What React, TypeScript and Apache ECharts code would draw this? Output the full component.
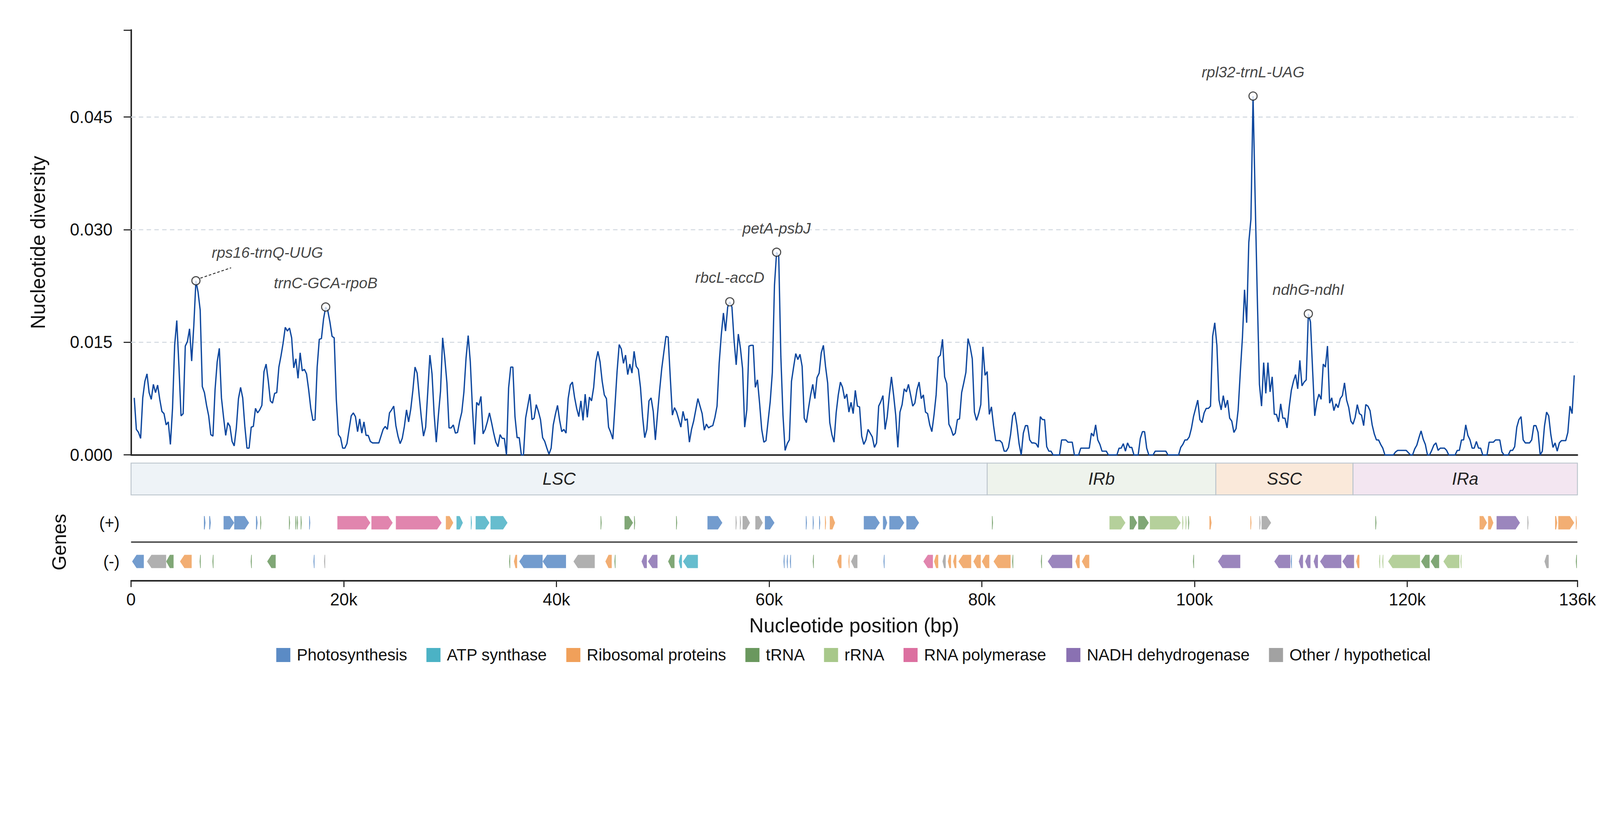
import { useEffect, useRef } from 'react'
import * as echarts from 'echarts'

// sliding-window nucleotide diversity (window midpoints start at 300 bp, step 200 bp)
const windowStart = 300
const windowStep = 200
const diversity = [
  0.0076, 0.0034, 0.0030, 0.0022, 0.0076, 0.0098, 0.0108, 0.0083, 0.0074, 0.0094,
  0.0083, 0.0093, 0.0074, 0.0058, 0.0055, 0.0040, 0.0044, 0.0014, 0.0062, 0.0146,
  0.0179, 0.0119, 0.0052, 0.0055, 0.0145, 0.0151, 0.0168, 0.0125, 0.0172, 0.0232,
  0.0217, 0.0193, 0.0091, 0.0083, 0.0066, 0.0052, 0.0027, 0.0025, 0.0087, 0.0124,
  0.0142, 0.0076, 0.0050, 0.0026, 0.0043, 0.0038, 0.0018, 0.0012, 0.0036, 0.0075,
  0.0090, 0.0076, 0.0038, 0.0009, 0.0009, 0.0037, 0.0038, 0.0062, 0.0056, 0.0060,
  0.0066, 0.0111, 0.0121, 0.0099, 0.0072, 0.0069, 0.0082, 0.0083, 0.0117, 0.0132,
  0.0149, 0.0170, 0.0165, 0.0169, 0.0156, 0.0116, 0.0128, 0.0102, 0.0136, 0.0112,
  0.0114, 0.0108, 0.0087, 0.0062, 0.0046, 0.0047, 0.0117, 0.0154, 0.0155, 0.0181,
  0.0197, 0.0192, 0.0177, 0.0158, 0.0156, 0.0074, 0.0027, 0.0023, 0.0009, 0.0009,
  0.0015, 0.0034, 0.0052, 0.0056, 0.0051, 0.0031, 0.0048, 0.0029, 0.0044, 0.0026,
  0.0026, 0.0018, 0.0016, 0.0016, 0.0016, 0.0016, 0.0025, 0.0034, 0.0038, 0.0034,
  0.0056, 0.0060, 0.0065, 0.0039, 0.0025, 0.0015, 0.0022, 0.0038, 0.0060, 0.0044,
  0.0061, 0.0086, 0.0117, 0.0109, 0.0078, 0.0049, 0.0025, 0.0037, 0.0084, 0.0133,
  0.0108, 0.0054, 0.0017, 0.0053, 0.0085, 0.0156, 0.0129, 0.0096, 0.0036, 0.0036,
  0.0040, 0.0029, 0.0030, 0.0045, 0.0057, 0.0084, 0.0129, 0.0159, 0.0124, 0.0062,
  0.0014, 0.0070, 0.0066, 0.0078, 0.0028, 0.0034, 0.0044, 0.0056, 0.0043, 0.0029,
  0.0017, 0.0011, 0.0027, 0.0022, 0.0022, 0.0000, 0.0089, 0.0117, 0.0117, 0.0051,
  0.0023, 0.0023, 0.0000, 0.0000, 0.0049, 0.0065, 0.0081, 0.0047, 0.0049, 0.0067,
  0.0058, 0.0047, 0.0023, 0.0018, 0.0009, 0.0001, 0.0009, 0.0040, 0.0054, 0.0066,
  0.0046, 0.0031, 0.0034, 0.0029, 0.0075, 0.0093, 0.0097, 0.0077, 0.0062, 0.0051,
  0.0072, 0.0046, 0.0081, 0.0050, 0.0077, 0.0072, 0.0090, 0.0124, 0.0138, 0.0124,
  0.0098, 0.0080, 0.0075, 0.0037, 0.0030, 0.0021, 0.0065, 0.0111, 0.0147, 0.0141,
  0.0122, 0.0133, 0.0107, 0.0121, 0.0109, 0.0138, 0.0118, 0.0114, 0.0090, 0.0051,
  0.0023, 0.0034, 0.0072, 0.0076, 0.0058, 0.0020, 0.0054, 0.0086, 0.0115, 0.0137,
  0.0158, 0.0157, 0.0104, 0.0053, 0.0063, 0.0057, 0.0047, 0.0037, 0.0058, 0.0046,
  0.0048, 0.0017, 0.0034, 0.0045, 0.0060, 0.0075, 0.0065, 0.0055, 0.0033, 0.0041,
  0.0036, 0.0038, 0.0039, 0.0050, 0.0065, 0.0122, 0.0160, 0.0189, 0.0165, 0.0197,
  0.0204, 0.0197, 0.0153, 0.0120, 0.0161, 0.0142, 0.0115, 0.0037, 0.0060, 0.0145,
  0.0146, 0.0146, 0.0090, 0.0100, 0.0069, 0.0034, 0.0017, 0.0019, 0.0045, 0.0071,
  0.0110, 0.0226, 0.0270, 0.0265, 0.0131, 0.0053, 0.0006, 0.0015, 0.0020, 0.0098,
  0.0117, 0.0135, 0.0127, 0.0134, 0.0118, 0.0049, 0.0043, 0.0062, 0.0080, 0.0094,
  0.0075, 0.0103, 0.0109, 0.0136, 0.0146, 0.0118, 0.0096, 0.0043, 0.0027, 0.0017,
  0.0056, 0.0080, 0.0097, 0.0090, 0.0075, 0.0081, 0.0057, 0.0070, 0.0055, 0.0086,
  0.0065, 0.0064, 0.0025, 0.0014, 0.0020, 0.0034, 0.0029, 0.0024, 0.0010, 0.0016,
  0.0065, 0.0071, 0.0079, 0.0034, 0.0051, 0.0080, 0.0104, 0.0080, 0.0053, 0.0010,
  0.0057, 0.0067, 0.0088, 0.0084, 0.0094, 0.0080, 0.0065, 0.0069, 0.0087, 0.0097,
  0.0075, 0.0080, 0.0057, 0.0055, 0.0040, 0.0031, 0.0053, 0.0080, 0.0130, 0.0133,
  0.0154, 0.0104, 0.0095, 0.0041, 0.0035, 0.0026, 0.0029, 0.0047, 0.0048, 0.0083,
  0.0096, 0.0110, 0.0155, 0.0144, 0.0128, 0.0057, 0.0046, 0.0055, 0.0067, 0.0144,
  0.0106, 0.0111, 0.0054, 0.0064, 0.0039, 0.0019, 0.0019, 0.0019, 0.0016, 0.0005,
  0.0005, 0.0010, 0.0027, 0.0052, 0.0057, 0.0039, 0.0015, 0.0000, 0.0029, 0.0039,
  0.0039, 0.0020, 0.0016, 0.0016, 0.0015, 0.0010, 0.0051, 0.0047, 0.0047, 0.0011,
  0.0005, 0.0005, 0.0000, 0.0000, 0.0000, 0.0000, 0.0020, 0.0020, 0.0020, 0.0017,
  0.0017, 0.0017, 0.0000, 0.0000, 0.0000, 0.0009, 0.0009, 0.0009, 0.0009, 0.0009,
  0.0029, 0.0025, 0.0040, 0.0020, 0.0014, 0.0005, 0.0005, 0.0005, 0.0000, 0.0000,
  0.0000, 0.0000, 0.0000, 0.0009, 0.0009, 0.0015, 0.0005, 0.0016, 0.0010, 0.0010,
  0.0000, 0.0000, 0.0000, 0.0022, 0.0031, 0.0031, 0.0009, 0.0000, 0.0000, 0.0000,
  0.0005, 0.0005, 0.0005, 0.0005, 0.0005, 0.0005, 0.0000, 0.0000, 0.0000, 0.0000,
  0.0000, 0.0000, 0.0010, 0.0014, 0.0020, 0.0020, 0.0024, 0.0035, 0.0051, 0.0062,
  0.0073, 0.0047, 0.0043, 0.0056, 0.0062, 0.0062, 0.0065, 0.0158, 0.0176, 0.0146,
  0.0073, 0.0060, 0.0079, 0.0063, 0.0073, 0.0049, 0.0045, 0.0030, 0.0035, 0.0060,
  0.0110, 0.0156, 0.0220, 0.0176, 0.0283, 0.0314, 0.0478, 0.0340, 0.0210, 0.0094,
  0.0065, 0.0123, 0.0082, 0.0123, 0.0084, 0.0104, 0.0054, 0.0054, 0.0044, 0.0068,
  0.0049, 0.0049, 0.0036, 0.0064, 0.0086, 0.0098, 0.0107, 0.0088, 0.0126, 0.0092,
  0.0097, 0.0100, 0.0188, 0.0177, 0.0113, 0.0052, 0.0071, 0.0081, 0.0074, 0.0121,
  0.0117, 0.0145, 0.0069, 0.0076, 0.0059, 0.0068, 0.0063, 0.0075, 0.0079, 0.0096,
  0.0073, 0.0063, 0.0045, 0.0041, 0.0050, 0.0067, 0.0055, 0.0053, 0.0039, 0.0067,
  0.0065, 0.0059, 0.0040, 0.0028, 0.0020, 0.0020, 0.0014, 0.0009, 0.0000, 0.0000,
  0.0000, 0.0000, 0.0000, 0.0004, 0.0006, 0.0006, 0.0006, 0.0006, 0.0006, 0.0003,
  0.0000, 0.0000, 0.0008, 0.0013, 0.0023, 0.0032, 0.0021, 0.0014, 0.0000, 0.0000,
  0.0006, 0.0013, 0.0016, 0.0006, 0.0009, 0.0009, 0.0009, 0.0006, 0.0000, 0.0000,
  0.0000, 0.0000, 0.0006, 0.0006, 0.0020, 0.0020, 0.0040, 0.0026, 0.0020, 0.0009,
  0.0009, 0.0018, 0.0009, 0.0009, 0.0000, 0.0000, 0.0000, 0.0017, 0.0017, 0.0017,
  0.0020, 0.0020, 0.0020, 0.0004, 0.0000, 0.0000, 0.0000, 0.0006, 0.0006, 0.0011,
  0.0037, 0.0047, 0.0051, 0.0020, 0.0016, 0.0016, 0.0016, 0.0020, 0.0039, 0.0039,
  0.0030, 0.0000, 0.0005, 0.0038, 0.0057, 0.0052, 0.0027, 0.0010, 0.0016, 0.0005,
  0.0016, 0.0019, 0.0019, 0.0019, 0.0030, 0.0065, 0.0055, 0.0106,
]

const peakNames = ['rps16-trnQ-UUG', 'trnC-GCA-rpoB', 'rbcL-accD', 'petA-psbJ', 'rpl32-trnL-UAG', 'ndhG-ndhI']
const peakWindow = [29, 90, 280, 302, 526, 552]

const yTicks = [0.015, 0.03, 0.045]

const regionNames = ['LSC', 'IRb', 'SSC', 'IRa']
const regionBounds = [0, 80500, 102000, 114900, 136000]
const regionColors = ['#eef3f7', '#eef3ec', '#fae9da', '#f3e6f1']

const categories = ['Photosynthesis', 'ATP synthase', 'Ribosomal proteins', 'tRNA', 'rRNA', 'RNA polymerase', 'NADH dehydrogenase', 'Other / hypothetical']
const categoryColors = ['#5b8bc5', '#4bb2c5', '#f0a05a', '#6a985e', '#a8c88a', '#dc70a0', '#8a71b2', '#a2a2a2']

// [start bp, end bp, category index]
const plusGenes = [
  [6850, 7000, 0], [7350, 7500, 0], [8700, 9700, 0], [9700, 11100, 0], [11750, 11900, 0],
  [12150, 12250, 3], [14850, 14950, 3], [15450, 15550, 3], [15600, 15700, 3], [15950, 16050, 3],
  [16750, 16850, 0], [19400, 22500, 5], [22600, 24600, 5], [24900, 29200, 5], [29600, 30300, 2],
  [30600, 31200, 1], [31950, 32050, 1], [32400, 33700, 1], [33800, 35400, 1], [44150, 44250, 3],
  [46400, 47200, 3], [47300, 47400, 3], [51250, 51350, 3], [54200, 55600, 0], [56850, 56950, 7],
  [57250, 57350, 7], [57500, 58200, 7], [58700, 59400, 7], [59600, 60500, 0], [63450, 63550, 0],
  [64100, 64200, 0], [64700, 64800, 0], [65250, 65350, 2], [65700, 66200, 2], [68900, 70400, 0],
  [70700, 71100, 0], [71300, 72700, 0], [72900, 74100, 0], [80950, 81050, 3], [92000, 93500, 4],
  [93900, 94600, 3], [94700, 95700, 3], [95800, 98700, 4], [98850, 98950, 4], [99150, 99250, 4],
  [99400, 99500, 3], [101400, 101600, 2], [105250, 105350, 2], [106100, 106200, 7], [106300, 107200, 7],
  [117000, 117100, 3], [126800, 127500, 2], [127600, 128100, 2], [128400, 130600, 6], [131300, 131400, 7],
  [133900, 134100, 2], [134200, 135700, 2], [135850, 135950, 2],
]
const minusGenes = [
  [100, 1200, 0], [1500, 3300, 7], [3300, 4000, 3], [4600, 5700, 2], [6450, 6550, 3],
  [7650, 7750, 3], [11250, 11350, 3], [12800, 13600, 3], [17150, 17250, 0], [18150, 18250, 7],
  [35550, 35650, 3], [36000, 36300, 2], [36500, 38700, 0], [38700, 40900, 0], [41600, 43600, 7],
  [44600, 45200, 2], [45450, 45550, 3], [48000, 48500, 6], [48600, 49500, 6], [50500, 51100, 3],
  [51500, 51800, 1], [51900, 53300, 1], [61350, 61450, 0], [61650, 61750, 0], [61950, 62050, 0],
  [64100, 64200, 3], [66400, 66800, 2], [67450, 67550, 2], [67700, 68300, 7], [70750, 70850, 0],
  [74500, 75400, 5], [75500, 75900, 2], [76300, 76600, 7], [76800, 77100, 2], [77300, 77600, 2],
  [77800, 79000, 2], [79200, 79900, 2], [80000, 80700, 2], [81100, 82700, 2], [82850, 82950, 3],
  [85550, 85650, 3], [86200, 88500, 6], [88800, 89200, 2], [89400, 90100, 2], [99850, 99950, 3],
  [102200, 104300, 6], [107500, 109000, 6], [109050, 109150, 0], [109800, 110200, 6], [110400, 110900, 6],
  [111200, 111600, 6], [111800, 113800, 6], [113900, 115000, 6], [115200, 115500, 2], [117350, 117450, 4],
  [117650, 117750, 4], [118200, 121200, 4], [121300, 122100, 3], [122200, 123000, 3], [123400, 124900, 4],
  [125000, 125100, 4], [132900, 133300, 7], [135850, 135950, 3],
]

const FONT = '"Liberation Sans", Arial, sans-serif'
const INK = '#111111'
const BASE_W = 4322
const BASE_H = 2102

export default function App() {
  const rootRef = useRef<HTMLDivElement | null>(null)

  useEffect(() => {
    if (!rootRef.current) return
    document.body.style.margin = '0'
    const el = rootRef.current
    // layout was measured on a 4322px-wide figure; scale it to the real viewport
    const s = (el.clientWidth || window.innerWidth) / BASE_W
    const px = (v: number) => v * s
    const chart = echarts.init(el, undefined, { renderer: 'svg' })

    const positions = diversity.map((_, i) => windowStart + i * windowStep)
    const linePoints = diversity.map((v, i) => [positions[i], v])
    const peaks = peakWindow.map((w, k) => ({
      name: peakNames[k],
      value: [positions[w], diversity[w]],
      label: k === 0 ? { offset: [px(193), px(-11)] } : undefined,
    }))

    const renderGene = (_p: any, api: any) => {
      const yv = api.value(2)
      const dir = api.value(3)
      const a = api.coord([api.value(0), yv])
      const b = api.coord([api.value(1), yv])
      const x0 = a[0]
      const x1 = Math.max(b[0], a[0] + px(2))
      const cy = a[1]
      const half = px(18)
      const head = Math.min(px(12), (x1 - x0) * 0.5)
      const pts = dir > 0
        ? [[x0, cy - half], [x1 - head, cy - half], [x1, cy], [x1 - head, cy + half], [x0, cy + half]]
        : [[x1, cy - half], [x0 + head, cy - half], [x0, cy], [x0 + head, cy + half], [x1, cy + half]]
      return { type: 'polygon', shape: { points: pts }, style: { fill: api.visual('color'), opacity: 0.85 } }
    }

    const geneSeries = categories.map((name, c) => ({
      type: 'custom',
      name,
      xAxisIndex: 2,
      yAxisIndex: 2,
      itemStyle: { color: categoryColors[c] },
      renderItem: renderGene,
      encode: { x: [0, 1], y: 2 },
      data: [
        ...plusGenes.filter((g) => g[2] === c).map((g) => [g[0], g[1], 1.5, 1]),
        ...minusGenes.filter((g) => g[2] === c).map((g) => [g[0], g[1], 0.5, -1]),
      ],
      z: 4,
    }))

    const axisLine = { show: true, lineStyle: { color: '#262626', width: px(4) } }

    chart.setOption({
      animation: false,
      textStyle: { fontFamily: FONT, color: INK },
      grid: [
        { left: px(354), right: px(61), top: px(81), height: px(1148) },
        { left: px(354), right: px(61), top: px(1251), height: px(86) },
        { left: px(354), right: px(61), top: px(1360), height: px(209) },
      ],
      xAxis: [
        {
          gridIndex: 0, type: 'value', min: 0, max: 136000,
          axisLine, axisTick: { show: false }, axisLabel: { show: false }, splitLine: { show: false },
        },
        { gridIndex: 1, type: 'value', min: 0, max: 136000, show: false },
        {
          gridIndex: 2, type: 'value', min: 0, max: 136000, interval: 20000,
          axisLine,
          axisTick: { show: true, length: px(17), lineStyle: { color: '#262626', width: px(3) } },
          axisLabel: {
            fontSize: px(46), color: INK, margin: px(27), fontFamily: FONT,
            formatter: (v: number) => (v === 0 ? '0' : `${Math.round(v / 1000)}k`),
          },
          splitLine: { show: false },
          name: 'Nucleotide position (bp)', nameLocation: 'middle', nameGap: px(94),
          nameTextStyle: { fontSize: px(54), color: INK, fontFamily: FONT },
        },
      ],
      yAxis: [
        {
          gridIndex: 0, type: 'value', min: 0, max: 0.0566, interval: 0.015,
          axisLine,
          axisTick: { show: true, length: px(20), lineStyle: { color: '#262626', width: px(3) } },
          axisLabel: {
            fontSize: px(46), color: INK, margin: px(50), fontFamily: FONT,
            formatter: (v: number) => {
              const k = v / 0.015
              return Math.abs(k - Math.round(k)) < 1e-6 ? v.toFixed(3) : ''
            },
          },
          splitLine: { show: false },
          name: 'Nucleotide diversity', nameLocation: 'middle', nameGap: px(224),
          nameTextStyle: { fontSize: px(54), color: INK, fontFamily: FONT },
        },
        { gridIndex: 1, type: 'value', min: 0, max: 1, show: false },
        {
          gridIndex: 2, type: 'value', min: 0, max: 2, interval: 0.5,
          axisLine: { show: false }, axisTick: { show: false }, splitLine: { show: false },
          axisLabel: {
            fontSize: px(44), color: INK, margin: px(31), fontFamily: FONT,
            formatter: (v: number) => (v === 1.5 ? '(+)' : v === 0.5 ? '(-)' : ''),
          },
          name: 'Genes', nameLocation: 'middle', nameGap: px(168),
          nameTextStyle: { fontSize: px(52), color: INK, fontFamily: FONT },
        },
      ],
      legend: {
        data: categories,
        left: px(741),
        top: px(1742),
        icon: 'rect',
        itemWidth: px(38),
        itemHeight: px(38),
        itemGap: px(52),
        textStyle: { fontSize: px(44), color: INK, fontFamily: FONT, padding: [0, 0, 0, px(12)] },
        selectedMode: false,
      },
      series: [
        {
          type: 'custom',
          name: 'grid',
          xAxisIndex: 0,
          yAxisIndex: 0,
          silent: true,
          z: 1,
          data: yTicks.map((v) => [v]),
          renderItem: (_p: any, api: any) => {
            const a = api.coord([0, api.value(0)])
            const b = api.coord([136000, api.value(0)])
            return {
              type: 'line',
              shape: { x1: a[0], y1: a[1], x2: b[0], y2: b[1] },
              style: { stroke: '#d5dbe2', lineWidth: px(3), lineDash: [px(12), px(9)] },
            }
          },
        },
        {
          type: 'line',
          name: 'diversity',
          xAxisIndex: 0,
          yAxisIndex: 0,
          data: linePoints,
          showSymbol: false,
          symbol: 'none',
          lineStyle: { color: '#0d479e', width: px(3.5) },
          z: 3,
        },
        {
          type: 'custom',
          name: 'leader',
          xAxisIndex: 0,
          yAxisIndex: 0,
          silent: true,
          z: 2,
          data: [peaks[0].value],
          renderItem: (_p: any, api: any) => {
            const p = api.coord([api.value(0), api.value(1)])
            return {
              type: 'line',
              shape: { x1: p[0] + px(12), y1: p[1] - px(7), x2: p[0] + px(95), y2: p[1] - px(35) },
              style: { stroke: '#333', lineWidth: px(2.5), lineDash: [px(7), px(5)] },
            }
          },
        },
        {
          type: 'scatter',
          name: 'peaks',
          xAxisIndex: 0,
          yAxisIndex: 0,
          data: peaks,
          symbol: 'circle',
          symbolSize: px(22),
          itemStyle: { color: '#ffffff', borderColor: '#222', borderWidth: px(3) },
          label: {
            show: true, position: 'top', distance: px(32), formatter: '{b}',
            fontSize: px(41), fontStyle: 'italic', color: INK, fontFamily: FONT,
          },
          z: 5,
        },
        {
          type: 'custom',
          name: 'regions',
          xAxisIndex: 1,
          yAxisIndex: 1,
          silent: true,
          data: regionNames.map((_, i) => [regionBounds[i], regionBounds[i + 1], i]),
          encode: { x: [0, 1] },
          renderItem: (_p: any, api: any) => {
            const idx = api.value(2)
            const a = api.coord([api.value(0), 1])
            const b = api.coord([api.value(1), 0])
            return {
              type: 'group',
              children: [
                {
                  type: 'rect',
                  shape: { x: a[0], y: a[1], width: b[0] - a[0], height: b[1] - a[1] },
                  style: { fill: regionColors[idx], stroke: '#bcc5cd', lineWidth: px(2.5) },
                },
                {
                  type: 'text',
                  style: {
                    text: regionNames[idx], x: (a[0] + b[0]) / 2, y: (a[1] + b[1]) / 2,
                    align: 'center', verticalAlign: 'middle',
                    fontSize: px(46), fontStyle: 'italic', fontFamily: FONT, fill: '#222',
                  },
                },
              ],
            }
          },
        },
        {
          type: 'custom',
          name: 'strand-divider',
          xAxisIndex: 2,
          yAxisIndex: 2,
          silent: true,
          data: [[1]],
          renderItem: (_p: any, api: any) => {
            const a = api.coord([0, api.value(0)])
            const b = api.coord([136000, api.value(0)])
            return {
              type: 'line',
              shape: { x1: a[0], y1: a[1], x2: b[0], y2: b[1] },
              style: { stroke: '#333', lineWidth: px(3.5) },
            }
          },
        },
        ...geneSeries,
      ],
    })

    return () => chart.dispose()
  }, [])

  return (
    <div
      ref={rootRef}
      style={{ position: 'fixed', left: 0, top: 0, width: '100vw', height: `calc(100vw * ${BASE_H} / ${BASE_W})`, background: '#fff' }}
    />
  )
}
